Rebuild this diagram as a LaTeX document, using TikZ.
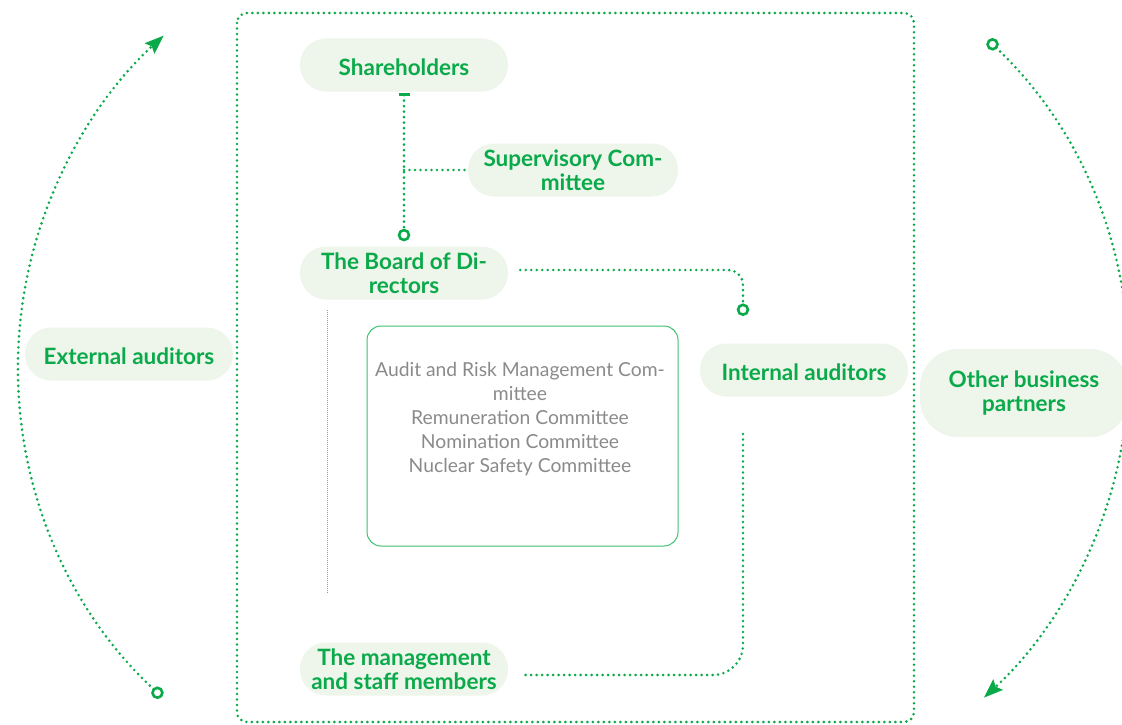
\documentclass[tikz,border=0pt]{standalone}
\usepackage{fontspec}
\setmainfont{Lato}
\usetikzlibrary{arrows.meta}
\definecolor{grn}{HTML}{0AAA4B}
\definecolor{pillfill}{HTML}{EEF5EA}
\definecolor{boxgrn}{HTML}{3CBF6E}
\definecolor{txtgrey}{HTML}{8A8A8A}
\tikzset{
  ringtip/.tip={Circle[open, length=12.5pt, width=12.5pt, line width=2.6pt, fill=white]},
  bigtip/.tip={Stealth[length=19pt, width=14pt, inset=3pt]},
  bartip/.tip={Bar[width=11pt, line width=2.6pt, line cap=butt]},
}
\begin{document}
\begin{tikzpicture}[x=1pt,y=-1pt,
  pillbox/.style={fill=pillfill, rounded corners=26pt, minimum width=208pt, minimum height=53pt,
    align=center, font=\bfseries\fontsize{22.5}{24.5}\selectfont, text=grn, inner sep=0pt,
    execute at begin node={\rule{0pt}{20.5pt}}},
  dotline/.style={draw=grn, line width=2.9pt, line cap=round, dash pattern=on 0pt off 5.5pt},
]
\useasboundingbox (0,0) rectangle (1122,725);
\clip (0,0) rectangle (1122,725);

% outer frame
\draw[dotline, rounded corners=10pt] (237,13) rectangle (914,722);

% nodes
\node[pillbox] (sh) at (404,65) {Shareholders};
\node[pillbox, minimum width=210pt] (sup) at (573,170) {Supervisory Com-\\mittee};
\node[pillbox] (bod) at (404,273) {The Board of Di-\\rectors};
\node[pillbox] (ia) at (804,370) {Internal auditors};
\node[pillbox] (mg) at (404,669) {The management\\and staff members};
\node[pillbox] (ea) at (129,354) {External auditors};
\node[pillbox, minimum width=208pt, minimum height=88pt, rounded corners=38pt] (ob) at (1024,393) {Other business\\partners};

\node[draw=boxgrn, line width=1pt, rounded corners=14pt, minimum width=311pt, minimum height=220pt] (cm) at (522.5,436) {};
\node[text=txtgrey, font=\fontsize{19.3}{24}\selectfont, align=center, inner sep=0pt] (cmt) at (520,419)
  {Audit and Risk Management Com-\\mittee\\Remuneration Committee\\Nomination Committee\\Nuclear Safety Committee};

% connectors
\draw[dotline, bartip-ringtip, shorten <=1.5pt, shorten >=5pt] (sh.south) -- (bod.north);
\draw[dotline] (sh.south |- sup.west) -- (sup.west);

\coordinate (iaTop) at (743,316);
\coordinate (iaBot) at (743,434);
\draw[dotline, rounded corners=15pt, -ringtip] ([xshift=12pt,yshift=3pt]bod.east) -| (iaTop);
\draw[dotline, rounded corners=30pt] (iaBot) |- ([xshift=12pt,yshift=-6pt]mg.east);

\draw[draw=grn!70, line width=1pt, dash pattern=on 1pt off 1pt] (327,310) -- (327,593);

% outer arcs
\coordinate (la) at (162,697);
\coordinate (ra) at (988,40);
\draw[dotline, ringtip-bigtip] (la) arc[start angle=-132.84, end angle=-227.45, radius=450pt];
\draw[dotline, ringtip-bigtip] (ra) arc[start angle=46.6, end angle=-47.3, radius=450pt];
\end{tikzpicture}
\end{document}
